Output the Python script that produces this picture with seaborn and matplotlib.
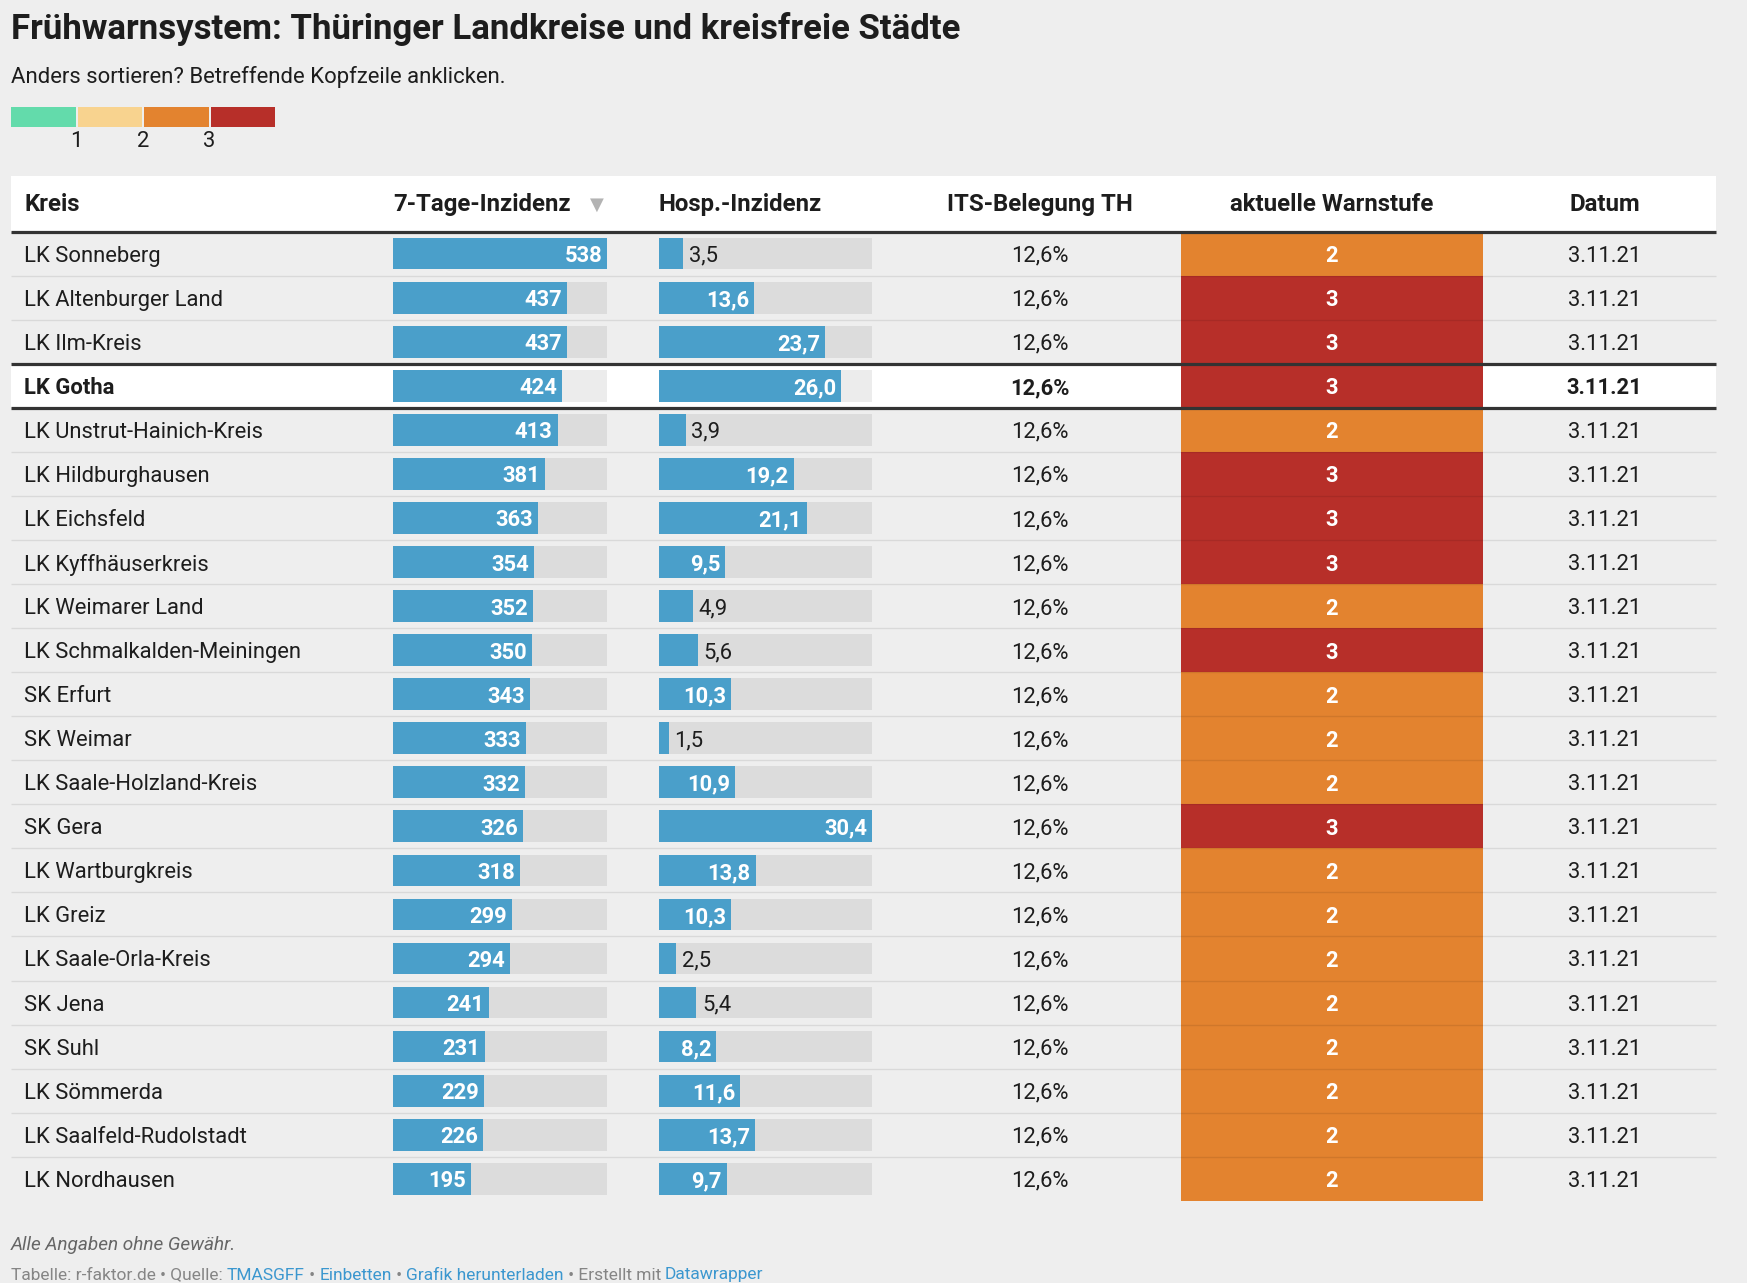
import numpy as np
import pandas as pd
import matplotlib
matplotlib.use("Agg")
import matplotlib.pyplot as plt
from matplotlib.colors import ListedColormap
from matplotlib.transforms import offset_copy
import seaborn as sns

# ---------------- data ----------------
kreise = ["LK Sonneberg", "LK Altenburger Land", "LK Ilm-Kreis", "LK Gotha",
          "LK Unstrut-Hainich-Kreis", "LK Hildburghausen", "LK Eichsfeld",
          "LK Kyffhäuserkreis", "LK Weimarer Land", "LK Schmalkalden-Meiningen",
          "SK Erfurt", "SK Weimar", "LK Saale-Holzland-Kreis", "SK Gera",
          "LK Wartburgkreis", "LK Greiz", "LK Saale-Orla-Kreis", "SK Jena",
          "SK Suhl", "LK Sömmerda", "LK Saalfeld-Rudolstadt", "LK Nordhausen"]
inzidenz = [538, 437, 437, 424, 413, 381, 363, 354, 352, 350, 343, 333, 332,
            326, 318, 299, 294, 241, 231, 229, 226, 195]
hosp = [3.5, 13.6, 23.7, 26.0, 3.9, 19.2, 21.1, 9.5, 4.9, 5.6, 10.3, 1.5,
        10.9, 30.4, 13.8, 10.3, 2.5, 5.4, 8.2, 11.6, 13.7, 9.7]
its_belegung = [12.6, 12.6, 12.6, 12.6, 12.6, 12.6, 12.6, 12.6, 12.6, 12.6, 12.6,
                12.6, 12.6, 12.6, 12.6, 12.6, 12.6, 12.6, 12.6, 12.6, 12.6, 12.6]
warnstufe = [2, 3, 3, 3, 2, 3, 3, 3, 2, 3, 2, 2, 2, 3, 2, 2, 2, 2, 2, 2, 2, 2]
datum = ["3.11.21"] * 22
highlight = "LK Gotha"
columns = ["Kreis", "7-Tage-Inzidenz", "Hosp.-Inzidenz", "ITS-Belegung TH",
           "aktuelle Warnstufe", "Datum"]
legend_levels = [0, 1, 2, 3]
legend_ticks = ["1", "2", "3"]

title = "Frühwarnsystem: Thüringer Landkreise und kreisfreie Städte"
subtitle = "Anders sortieren? Betreffende Kopfzeile anklicken."
note = "Alle Angaben ohne Gewähr."
source_parts = [("Tabelle: r-faktor.de • Quelle: ", "gray"), ("TMASGFF", "link"),
                (" • ", "gray"), ("Einbetten", "link"), (" • ", "gray"),
                ("Grafik herunterladen", "link"), (" • Erstellt mit ", "gray"),
                ("Datawrapper", "link")]

# ---------------- style ----------------
sns.set_theme(style="white")
FAM = ["Roboto", "DejaVu Sans"]
plt.rcParams["font.family"] = FAM

BG = "#eeeeee"
BLUE = "#4a9fca"
TEXT = "#1d1d1d"
SEP = (0, 0, 0, 0.085)
THICK = "#333333"
GRAY = "#858585"
LINK = "#3b97cf"
LEVEL_COLORS = ["#63dbab", "#f8d38f", "#e3832f", "#b72f29"]
cmap4 = ListedColormap(LEVEL_COLORS)

W, H = 1747, 1283
fig = plt.figure(figsize=(W / 100, H / 100), dpi=100, facecolor=BG)
renderer = fig.canvas.get_renderer()


def ax_px(x0, y0, x1, y1, **kw):
    return fig.add_axes([x0 / W, 1 - y1 / H, (x1 - x0) / W, (y1 - y0) / H], **kw)


def fit_size(s, target, **kw):
    t = fig.text(0, 0, s, fontsize=20, **kw)
    w = t.get_window_extent(renderer).width
    t.remove()
    return 20 * target / w


fs_title = fit_size(title, 947, weight="bold")
fs_sub = fit_size(subtitle, 494)
fs_body = fit_size("LK Schmalkalden-Meiningen", 277)
fs_head = fit_size("7-Tage-Inzidenz", 178, weight="bold")
fs_note = fit_size(note, 225, style="italic")
fs_src = fit_size("".join(p for p, _ in source_parts), 751)

DY = -2.5  # small downward shift for row text (dots)

# ---------------- geometry ----------------
TL, TR = 11, 1716
y_hdr_top, y_rows_top, y_rows_bot = 176.0, 231.6, 1200.8
n = len(kreise)
pitch = (y_rows_bot - y_rows_top) / n
hdr = (y_rows_top - y_hdr_top) / pitch
gi = kreise.index(highlight)

# ---------------- titles ----------------
fig.text(TL / W, 1 - 39 / H, title, fontsize=fs_title, weight="bold", color=TEXT,
         va="baseline", ha="left")
fig.text(TL / W, 1 - 83.5 / H, subtitle, fontsize=fs_sub, color=TEXT,
         va="baseline", ha="left")

# ---------------- legend ----------------
lax = ax_px(10, 105.5, 276, 127.5)
sns.heatmap(pd.DataFrame([legend_levels]), cmap=cmap4, vmin=-0.5, vmax=3.5, cbar=False,
            linewidths=1.2, linecolor=BG, xticklabels=False, yticklabels=False, ax=lax)
lax.set_xticks([1, 2, 3])
lax.set_xticklabels(legend_ticks, fontsize=fs_body, color=TEXT)
lax.tick_params(axis="x", length=0, pad=2.5, bottom=True, labelbottom=True)
lax.set_xlabel("")
lax.set_ylabel("")

# ---------------- background layer ----------------
bg = ax_px(0, y_hdr_top, W, y_rows_bot)
bg.set_xlim(0, W)
bg.set_ylim(n - 0.5, -0.5 - hdr)
bg.axis("off")
bg.axhspan(-0.5 - hdr, -0.5, xmin=TL / W, xmax=TR / W, color="white", lw=0)
bg.axhspan(gi - 0.5, gi + 0.5, xmin=TL / W, xmax=TR / W, color="white", lw=0)

# ---------------- warnstufe cells ----------------
hm = ax_px(1181, y_rows_top, 1483, y_rows_bot)
wdf = pd.DataFrame({"Warnstufe": warnstufe}, index=kreise)
sns.heatmap(wdf, cmap=cmap4, vmin=-0.5, vmax=3.5, cbar=False, annot=False,
            xticklabels=False, yticklabels=False, linewidths=0, ax=hm)
hm.set_xlabel("")
hm.set_ylabel("")
hm.tick_params(length=0)
t_hm = offset_copy(hm.transData, fig=fig, x=0, y=DY, units="dots")
for i, v in enumerate(warnstufe):
    hm.text(0.5, i + 0.5, str(v), ha="center", va="center", color="white",
            weight="bold", fontsize=fs_body, transform=t_hm)


# ---------------- bar columns ----------------
def bar_column(x0, x1, values, fmt, inside_min_px):
    a = ax_px(x0, y_rows_top, x1, y_rows_bot)
    vmax = max(values)
    df = pd.DataFrame({"Kreis": kreise, "v": values, "track": [vmax] * n})
    sns.barplot(data=df, x="track", y="Kreis", orient="h", color="black", alpha=0.075,
                width=0.72, saturation=1, errorbar=None, linewidth=0, ax=a)
    sns.barplot(data=df, x="v", y="Kreis", orient="h", color=BLUE,
                width=0.72, saturation=1, errorbar=None, linewidth=0, ax=a)
    a.set_xlim(0, vmax)
    a.set_ylim(n - 0.5, -0.5)
    a.axis("off")
    a.patch.set_alpha(0)
    t_in = offset_copy(a.transData, fig=fig, x=-5, y=DY, units="dots")
    t_out = offset_copy(a.transData, fig=fig, x=5.5, y=DY, units="dots")
    for i, v in enumerate(values):
        px = v / vmax * (x1 - x0)
        lab = fmt(v)
        if px >= inside_min_px:
            a.text(v, i, lab, ha="right", va="center", color="white", weight="bold",
                   fontsize=fs_body, transform=t_in)
        else:
            a.text(v, i, lab, ha="left", va="center", color=TEXT,
                   fontsize=fs_body, transform=t_out)
    return a


bar_column(393.3, 607.2, inzidenz, lambda v: f"{v:d}", 0)
bar_column(658.5, 872.4, hosp, lambda v: f"{v:.1f}".replace(".", ","), 48)

# ---------------- overlay: lines + text ----------------
ov = ax_px(0, y_hdr_top, W, y_rows_bot)
ov.set_xlim(0, W)
ov.set_ylim(n - 0.5, -0.5 - hdr)
ov.axis("off")
ov.patch.set_alpha(0)

thin = [i + 0.5 for i in range(n - 1) if i not in (gi - 1, gi)]
ov.hlines(thin, TL, TR, color=SEP, lw=1.0)
ov.hlines([-0.5, gi - 0.5, gi + 0.5], TL, TR, color=THICK, lw=2.3)

t_ov = offset_copy(ov.transData, fig=fig, x=0, y=DY, units="dots")
t_hd = offset_copy(ov.transData, fig=fig, x=0, y=-0.5, units="dots")
yh = -0.5 - hdr / 2
ov.text(24.5, yh, columns[0], ha="left", va="center", weight="bold", fontsize=fs_head,
        color=TEXT, transform=t_hd)
ov.text(393.3, yh, columns[1], ha="left", va="center", weight="bold", fontsize=fs_head,
        color=TEXT, transform=t_hd)
ov.text(597, yh, "▼", ha="center", va="center", fontsize=fs_head * 0.75, color="#b3b3b3",
        family=["DejaVu Sans"], transform=t_hd)
ov.text(658.5, yh, columns[2], ha="left", va="center", weight="bold", fontsize=fs_head,
        color=TEXT, transform=t_hd)
ov.text(1039.5, yh, columns[3], ha="center", va="center", weight="bold", fontsize=fs_head,
        color=TEXT, transform=t_hd)
ov.text(1332, yh, columns[4], ha="center", va="center", weight="bold", fontsize=fs_head,
        color=TEXT, transform=t_hd)
ov.text(1604.5, yh, columns[5], ha="center", va="center", weight="bold", fontsize=fs_head,
        color=TEXT, transform=t_hd)

for i, k in enumerate(kreise):
    wt = "bold" if k == highlight else "normal"
    ov.text(24.5, i, k, ha="left", va="center", fontsize=fs_body, color=TEXT, weight=wt,
            transform=t_ov)
    ov.text(1039.5, i, f"{its_belegung[i]:.1f}%".replace(".", ","), ha="center", va="center",
            fontsize=fs_body, color=TEXT, weight=wt, transform=t_ov)
    ov.text(1604.5, i, datum[i], ha="center", va="center", fontsize=fs_body,
            color=TEXT, weight=wt, transform=t_ov)

# ---------------- footer ----------------
fig.text(TL / W, 1 - 1245 / H, note, fontsize=fs_note, style="italic", color="#666666",
         va="center", ha="left")


def text_w(s, **kw):
    t = fig.text(0, 0, s, **kw)
    w = t.get_window_extent(renderer).width
    t.remove()
    return w


prefix = ""
xref = text_w("x", fontsize=fs_src)
for s, kind in source_parts:
    off = 0 if prefix == "" else text_w(prefix + "x", fontsize=fs_src) - xref
    fig.text((TL + off) / W, 1 - 1275 / H, s, fontsize=fs_src,
             color=GRAY if kind == "gray" else LINK, va="center", ha="left")
    prefix += s

fig.savefig("out.png", dpi=100, facecolor=BG)
